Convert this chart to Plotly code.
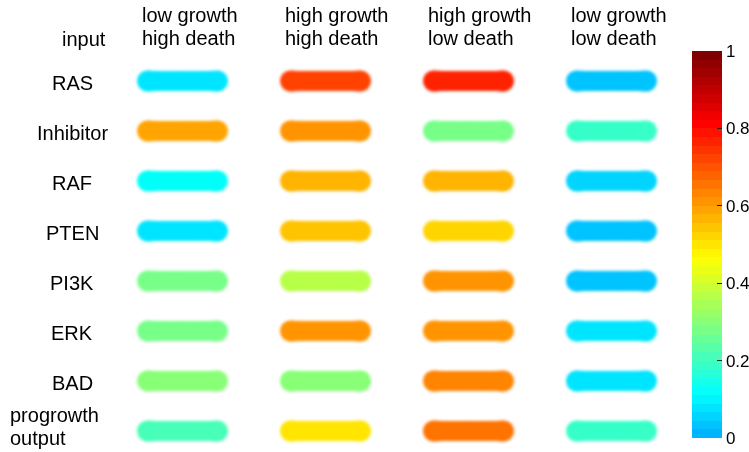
import numpy as np
import plotly.graph_objects as go

# Conditions (columns) and network nodes (rows)
header_top = ["low growth", "high growth", "high growth", "low growth"]
header_bottom = ["high death", "high death", "low death", "low death"]
species = ["RAS", "Inhibitor", "RAF", "PTEN", "PI3K", "ERK", "BAD", "progrowth output"]

# Normalised activity of each node under each condition
low_growth_high_death = [0.08, 0.58, 0.13, 0.08, 0.28, 0.28, 0.30, 0.22]
high_growth_high_death = [0.73, 0.62, 0.56, 0.54, 0.37, 0.60, 0.30, 0.51]
high_growth_low_death = [0.77, 0.28, 0.56, 0.52, 0.60, 0.60, 0.64, 0.66]
low_growth_low_death = [0.04, 0.18, 0.05, 0.03, 0.04, 0.08, 0.08, 0.18]

columns = [low_growth_high_death, high_growth_high_death,
           high_growth_low_death, low_growth_low_death]

colorbar_ticks = [0, 0.2, 0.4, 0.6, 0.8, 1]
colorbar_ticktext = ["0", "0.2", "0.4", "0.6", "0.8", "1"]

FONT = "Liberation Sans, Arial, Helvetica, sans-serif"
W, H = 749, 452
ML, MR, MT, MB = 111, 66, 31, 1
PW, PH = W - ML - MR, H - MT - MB


def jet(x):
    r = np.clip(1.5 - abs(4 * x - 3), 0, 1)
    g = np.clip(1.5 - abs(4 * x - 2), 0, 1)
    b = np.clip(1.5 - abs(4 * x - 1), 0, 1)
    return r, g, b


# Upper part of a 64-level jet map, drawn as discrete steps
n_levels, first_level = 45, 19
colorscale = []
for j in range(n_levels):
    r, g, b = jet((first_level + j) / 63)
    c = f"rgb({round(r * 255)},{round(g * 255)},{round(b * 255)})"
    colorscale += [[j / n_levels, c], [(j + 1) / n_levels, c]]

# Each value is drawn as a pill made of overlapping round markers
s = np.linspace(-1, 1, 45)
along = 0.245 * s
profile = 20 + 1.0 * np.abs(s) ** 6

xs, ys, cs, sz = [], [], [], []
for ci, col in enumerate(columns):
    for ri, v in enumerate(col):
        xs += list(ci + along)
        ys += [ri] * len(s)
        cs += [v] * len(s)
        sz += list(profile)

fig = go.Figure(go.Scatter(
    x=xs, y=ys, mode="markers", hoverinfo="skip",
    marker=dict(
        color=cs, cmin=0, cmax=1, colorscale=colorscale, size=sz,
        line=dict(width=0), opacity=1, showscale=True,
        colorbar=dict(
            thickness=30, thicknessmode="pixels",
            len=387, lenmode="pixels",
            xref="container", x=692 / W, xanchor="left",
            yref="container", y=1 - 55 / H, yanchor="top",
            xpad=0, ypad=0, outlinewidth=0,
            tickvals=colorbar_ticks, ticktext=colorbar_ticktext,
            ticklabeloverflow="allow",
            ticks="inside", ticklen=5, tickcolor="#222", tickwidth=1,
            tickfont=dict(family=FONT, size=17, color="black"),
        ),
    ),
))


def px_x(px):
    return (px - ML) / PW


def px_y(py):
    return (H - MB - py) / PH


def label(text, px, py, anchor="center"):
    return dict(x=px_x(px), y=px_y(py), xref="paper", yref="paper", text=text,
                xanchor=anchor, yanchor="middle", showarrow=False,
                font=dict(family=FONT, size=20, color="black"))


annotations = []
# Column headers, two lines each
col_px = [ML + PW * (ci + 0.5) / 4 for ci in range(4)]
for ci in range(4):
    annotations.append(label(header_top[ci], col_px[ci] - 43, 15, "left"))
    annotations.append(label(header_bottom[ci], col_px[ci] - 43, 38, "left"))

annotations.append(label("input", 84, 39))

# Row labels
row_px = [81 + 50 * ri for ri in range(len(species))]
for ri, name in enumerate(species):
    if " " in name:
        first, second = name.split(" ", 1)
        annotations.append(label(first, 8, row_px[ri] - 16, "left"))
        annotations.append(label(second, 8, row_px[ri] + 7, "left"))
    else:
        annotations.append(label(name, 72, row_px[ri] + 2))

fig.update_layout(
    width=W, height=H,
    margin=dict(l=ML, r=MR, t=MT, b=MB, pad=0),
    paper_bgcolor="white", plot_bgcolor="white",
    showlegend=False,
    xaxis=dict(range=[-0.5, 3.5], visible=False, fixedrange=True),
    yaxis=dict(range=[7.4, -1.0], visible=False, fixedrange=True),
    annotations=annotations,
)

# Soft edges for the pills via an SVG gaussian blur on the marker layer
soften_js = """
var gd = document.getElementById('{plot_id}');
function soften() {
  var svg = gd.querySelector('svg.main-svg');
  if (!svg) return;
  var ns = 'http://www.w3.org/2000/svg';
  if (!document.getElementById('pill-soften')) {
    var defs = svg.querySelector('defs');
    if (!defs) { defs = document.createElementNS(ns, 'defs'); svg.insertBefore(defs, svg.firstChild); }
    var f = document.createElementNS(ns, 'filter');
    f.setAttribute('id', 'pill-soften');
    f.setAttribute('x', '-10%'); f.setAttribute('y', '-10%');
    f.setAttribute('width', '120%'); f.setAttribute('height', '120%');
    var b = document.createElementNS(ns, 'feGaussianBlur');
    b.setAttribute('stdDeviation', '1.6');
    f.appendChild(b);
    defs.appendChild(f);
  }
  gd.querySelectorAll('.scatterlayer .trace').forEach(function (t) {
    t.setAttribute('filter', 'url(#pill-soften)');
  });
}
soften();
gd.on('plotly_afterplot', soften);
"""

fig.write_html("out.html", post_script=soften_js)
